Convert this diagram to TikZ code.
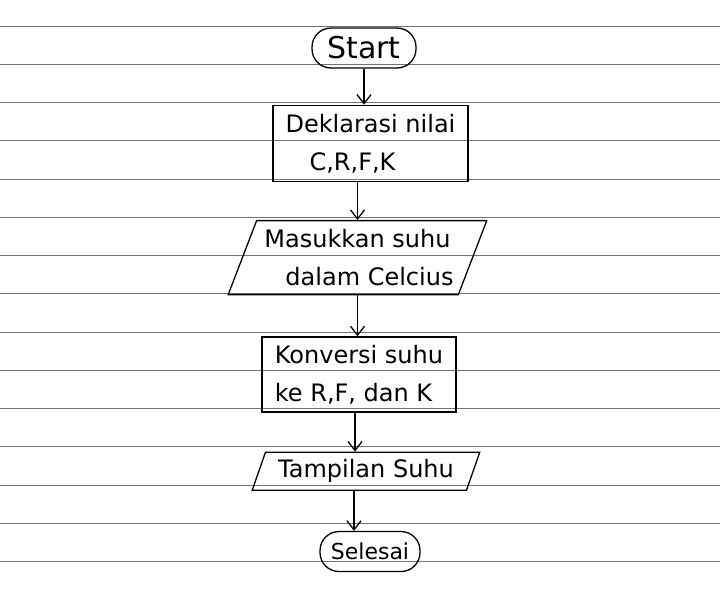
\documentclass[tikz,border=0pt]{standalone}
\usepackage{fontspec}
\setmainfont{DejaVu Sans}
\usetikzlibrary{positioning,shapes.geometric,arrows.meta}

\begin{document}
\begin{tikzpicture}[x=1pt, y=-1pt, line width=1.3pt, >={Straight Barb[length=9pt,width=14pt]},
  paper/.style = {draw=black!55, line width=0.9pt},
  term/.style = {draw, rectangle, rounded corners=19pt, minimum height=40pt, inner sep=2pt},
  proc/.style = {draw, rectangle, align=left, inner sep=3pt, font=\fontsize{24}{38}\selectfont},
  io/.style = {draw, trapezium, trapezium left angle=65, trapezium right angle=115, trapezium stretches=true, align=center, inner sep=1pt, font=\fontsize{24}{38}\selectfont}]
  \useasboundingbox (0,0) rectangle (720,592);
  % lined paper
  \foreach \k in {0,...,14}
    \draw[paper] (0,{26+38.25*\k}) -- (720,{26+38.25*\k});
  \node[term, minimum width=104pt, font=\fontsize{30}{34}\selectfont] (start) at (364,48) {Start};
  \node[proc, minimum width=195pt, minimum height=76pt] (dekl) [below=36pt of start, xshift=6.5pt] {Deklarasi nilai\\\quad C,R,F,K};
  \node[io, minimum width=259pt, minimum height=74pt] (masuk) [below=38pt of dekl, xshift=-13pt] {Masukkan suhu\\\quad dalam Celcius};
  \node[proc, minimum width=194pt, minimum height=75pt] (konv) [below=41pt of masuk, xshift=1.5pt] {Konversi suhu\\ke R,F, dan K};
  \node[io, minimum width=228pt, minimum height=38pt] (tamp) [below=39pt of konv, xshift=7pt] {Tampilan Suhu};
  \node[term, minimum width=100pt, font=\fontsize{22}{26}\selectfont] (sel) [below=40pt of tamp, xshift=4pt] {Selesai};
  \draw[->] (start.south) -- (start.south |- dekl.north);
  \draw[->] (masuk.north |- dekl.south) -- (masuk.north);
  \draw[->] (masuk.south) -- (masuk.south |- konv.north);
  \draw[->] ([xshift=-4pt]konv.south) -- ([xshift=-4pt]konv.south |- tamp.north);
  \draw[->] ([xshift=-12pt]tamp.south) -- ([xshift=-12pt]tamp.south |- sel.north);
\end{tikzpicture}
\end{document}
